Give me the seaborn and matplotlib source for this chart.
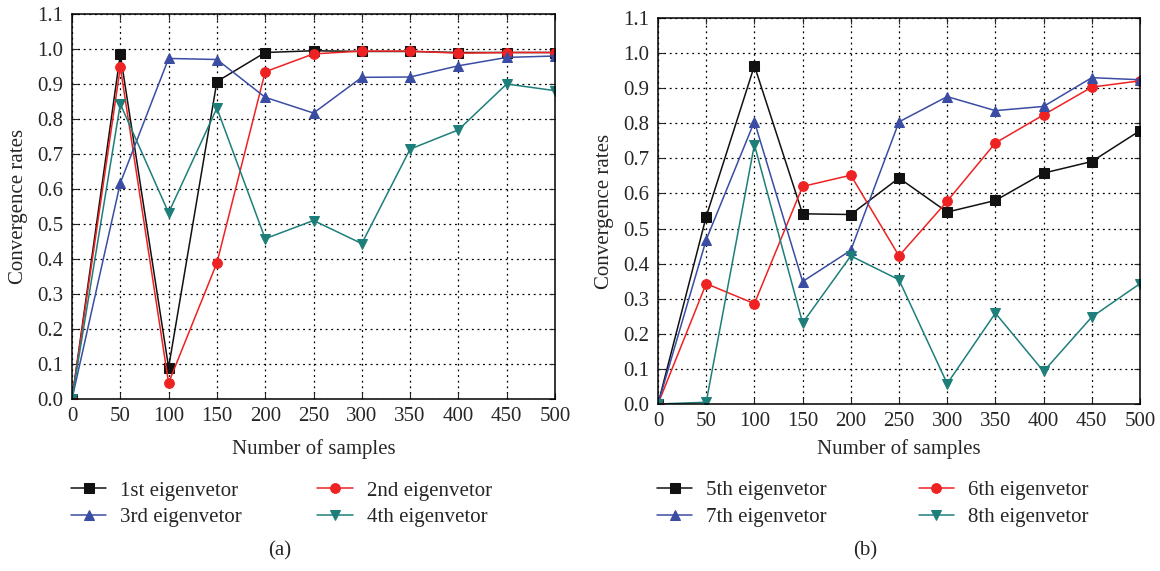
import numpy as np
import pandas as pd
import seaborn as sns
import matplotlib.pyplot as plt

# dane
samples = [0, 50, 100, 150, 200, 250, 300, 350, 400, 450, 500]

ev1 = [0.0, 0.985, 0.09, 0.907, 0.99, 0.995, 0.993, 0.993, 0.99, 0.99, 0.99]
ev2 = [0.0, 0.948, 0.046, 0.389, 0.935, 0.986, 0.994, 0.994, 0.988, 0.99, 0.99]
ev3 = [0.0, 0.617, 0.973, 0.970, 0.862, 0.817, 0.919, 0.920, 0.952, 0.976, 0.980]
ev4 = [0.0, 0.843, 0.532, 0.831, 0.458, 0.510, 0.444, 0.714, 0.769, 0.900, 0.881]

ev5 = [0.0, 0.534, 0.964, 0.542, 0.540, 0.644, 0.547, 0.580, 0.658, 0.691, 0.779]
ev6 = [0.0, 0.343, 0.286, 0.620, 0.652, 0.422, 0.578, 0.744, 0.824, 0.903, 0.921]
ev7 = [0.0, 0.468, 0.805, 0.349, 0.438, 0.804, 0.876, 0.836, 0.848, 0.930, 0.924]
ev8 = [0.0, 0.005, 0.739, 0.231, 0.422, 0.354, 0.058, 0.259, 0.093, 0.248, 0.343]

labels_a = ['1st eigenvetor', '2nd eigenvetor', '3rd eigenvetor', '4th eigenvetor']
labels_b = ['5th eigenvetor', '6th eigenvetor', '7th eigenvetor', '8th eigenvetor']

colors = ['#111111', '#ee2222', '#3a4da3', '#1e7f7a']
markers = ['s', 'o', '^', 'v']

sns.set_style("ticks")
plt.rcParams['font.family'] = ['Liberation Serif', 'DejaVu Serif']
plt.rcParams['font.size'] = 15


def make_df(series, labels):
    rows = []
    for vals, lab in zip(series, labels):
        for x, y in zip(samples, vals):
            rows.append({'Number of samples': x, 'rate': y, 'series': lab})
    return pd.DataFrame(rows)


df_a = make_df([ev1, ev2, ev3, ev4], labels_a)
df_b = make_df([ev5, ev6, ev7, ev8], labels_b)

fig = plt.figure(figsize=(11.6, 5.71), dpi=100)
ax_a = fig.add_axes([72 / 1160, 1 - 399 / 571, 483 / 1160, 385 / 571])
ax_b = fig.add_axes([658 / 1160, 1 - 404 / 571, 482 / 1160, 386 / 571])

# (ax, dane, etykiety, podpis, odstep kolumn legendy, pozycje y: xlabel, legenda, podpis)
panels = [
    (ax_a, df_a, labels_a, '(a)', 3.6, -0.104, -0.213, -0.395),
    (ax_b, df_b, labels_b, '(b)', 4.4, -0.091, -0.199, -0.381),
]

for ax, df, labels, cap, colsp, xl_y, leg_y, cap_y in panels:
    for lab, col, mk in zip(labels, colors, markers):
        sub = df[df['series'] == lab]
        sns.lineplot(data=sub, x='Number of samples', y='rate', ax=ax, color=col,
                     marker=mk, markersize=7, markeredgecolor=col, linewidth=1.1,
                     label=lab)
    ax.set_xlim(0, 500)
    ax.set_ylim(0, 1.1)
    ax.set_xticks(samples)
    ax.set_yticks(np.arange(0, 1.11, 0.1))
    ax.set_yticklabels([f'{v:.1f}' for v in np.arange(0, 1.11, 0.1)])
    ax.grid(True, linestyle=(0, (1.5, 3)), color='black', linewidth=0.9)
    ax.tick_params(direction='in', top=True, right=True, labelsize=15, length=4, pad=6)
    for s in ax.spines.values():
        s.set_color('black')
        s.set_linewidth(1.1)
    ax.set_xlabel('Number of samples', fontsize=15)
    ax.set_ylabel('Convergence rates', fontsize=15)
    ax.xaxis.set_label_coords(0.5, xl_y)
    ax.yaxis.set_label_coords(-0.092, 0.5)

    # kolejnosc wierszami: 1,2 / 3,4
    handles, labs = ax.get_legend_handles_labels()
    order = [0, 2, 1, 3]
    ax.legend([handles[i] for i in order], [labs[i] for i in order],
              loc='upper left', bbox_to_anchor=(-0.002, leg_y), ncol=2, frameon=False,
              fontsize=15, columnspacing=colsp, handlelength=1.7, handletextpad=0.67,
              labelspacing=0.35, borderaxespad=0, borderpad=0)
    ax.text(0.43, cap_y, cap, transform=ax.transAxes, ha='center', va='center', fontsize=15)

plt.savefig('out.png', dpi=100)
